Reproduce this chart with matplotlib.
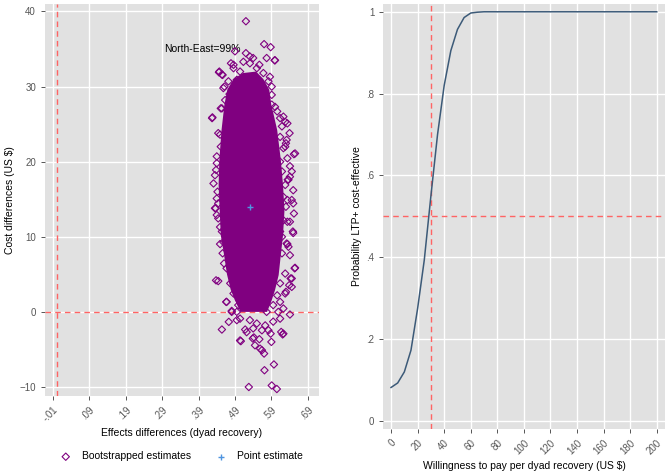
import matplotlib.pyplot as plt

plt.rcParams['font.family'] = ['Liberation Sans', 'DejaVu Sans']

# left panel: bootstrapped cost-effectiveness plane
# dense core of the cloud (outline)
core_x = [0.505, 0.490, 0.478, 0.468, 0.460, 0.451, 0.448, 0.445, 0.447, 0.453, 0.461, 0.469, 0.486, 0.512,
          0.548, 0.568, 0.584, 0.590, 0.606, 0.616, 0.622, 0.626, 0.622, 0.616, 0.610, 0.600, 0.590, 0.578]
core_y = [0.0, 1.5, 3.0, 5.0, 7.6, 10.2, 13.5, 16.9, 20.2, 24.2, 27.6, 29.6, 31.0, 31.8,
          32.0, 31.0, 29.6, 27.6, 24.2, 20.2, 16.9, 13.5, 10.2, 7.6, 4.9, 2.9, 1.4, 0.0]

# individual bootstrap draws around the core
boot_x = [0.520, 0.570, 0.588, 0.577, 0.599, 0.520, 0.531, 0.490, 0.479, 0.486, 0.513, 0.446, 0.456,
          0.586, 0.461, 0.591, 0.557, 0.540, 0.427, 0.447, 0.454, 0.623, 0.628, 0.652, 0.646, 0.650,
          0.652, 0.435, 0.431, 0.440, 0.449, 0.454, 0.458, 0.600, 0.640, 0.632, 0.628, 0.641, 0.646,
          0.641, 0.649, 0.449, 0.438, 0.460, 0.467, 0.454, 0.473, 0.481, 0.504, 0.518, 0.522, 0.528,
          0.542, 0.545, 0.559, 0.570, 0.571, 0.590, 0.597, 0.591, 0.605, 0.617, 0.623, 0.641, 0.623,
          0.630, 0.646, 0.646, 0.654, 0.641, 0.637, 0.632, 0.650, 0.506, 0.539, 0.557, 0.564, 0.588,
          0.582, 0.621, 0.495, 0.444, 0.466, 0.481, 0.655, 0.643, 0.634, 0.639, 0.614, 0.628, 0.606,
          0.634, 0.655, 0.630, 0.641, 0.591, 0.614, 0.428, 0.437, 0.635, 0.634, 0.458, 0.435, 0.440,
          0.444, 0.454, 0.637, 0.650, 0.634, 0.619,
          # edge draws
          0.451, 0.463, 0.475, 0.444, 0.451, 0.440, 0.591, 0.600, 0.619, 0.614, 0.623, 0.634, 0.614,
          0.438, 0.442, 0.444, 0.440, 0.449, 0.619, 0.628, 0.623, 0.630, 0.623, 0.614,
          0.456, 0.467, 0.477, 0.486, 0.499, 0.495, 0.619, 0.628, 0.614, 0.606, 0.595, 0.609, 0.577,
          0.504, 0.531, 0.550, 0.573, 0.595, 0.614, 0.564, 0.540,
          0.486, 0.504, 0.550, 0.568, 0.582, 0.472, 0.495, 0.531]
boot_y = [38.7, 35.65, 35.25, 33.8, 33.5, 34.45, 34.0, 34.7, 33.1, 32.45, 33.3, 31.9, 31.55,
          31.3, 30.0, 30.0, 32.9, 33.8, 25.8, 32.0, 31.6, 26.0, 25.3, 21.0, 18.7, 16.2,
          13.1, 13.8, 17.1, 19.8, 23.6, 27.1, 29.8, 33.5, 23.8, 22.9, 22.0, 18.0, 14.9,
          12.0, 10.7, 9.03, 4.2, 6.45, 1.33, -2.35, -1.33, 0.13, -3.8, -2.35, -2.7, -10.0,
          -3.4, -4.45, -4.9, -5.55, -7.77, -4.0, -7.0, -9.8, -10.27, -2.67, -2.9, -0.35, 0.45,
          2.67, 3.33, 4.45, 5.8, 7.55, 8.67, 9.1, 10.5, -3.9, -3.55, -3.64, -5.1, -2.9,
          -2.45, -3.0, -1.1, 4.1, 1.33, 0.0, 5.87, 4.45, 9.03, 3.55, 1.33, 2.45, 26.7,
          25.1, 21.1, 22.45, 19.4, 27.6, 25.8, 25.9, 13.8, 17.6, 14.9, 9.3, 18.2, 15.1,
          12.45, 10.7, 17.6, 14.45, 12.0, 10.0,
          # edge draws
          27.1, 28.2, 29.0, 23.8, 22.0, 20.7, 28.9, 27.3, 24.7, 23.3, 21.8, 20.45, 20.0,
          18.9, 16.0, 14.45, 12.9, 11.3, 18.7, 16.9, 15.3, 14.0, 12.2, 10.7,
          7.8, 5.8, 3.8, 2.45, 0.9, 0.0, 7.8, 5.1, 3.8, 2.2, 0.9, 0.0, 0.0,
          -0.9, -1.1, -1.55, -1.8, -1.3, -0.9, -2.45, -2.2,
          32.9, 32.0, 32.45, 31.8, 30.7, 30.7, 30.9, 33.1]

point_x = [0.53]
point_y = [13.9]

x_ticks = [-0.01, 0.09, 0.19, 0.29, 0.39, 0.49, 0.59, 0.69]
x_labels = ['-.01', '.09', '.19', '.29', '.39', '.49', '.59', '.69']
y_ticks = [-10, 0, 10, 20, 30, 40]

# right panel: acceptability curve
wtp = [0, 5, 10, 15, 20, 25, 30, 35, 40, 45, 50, 55, 60, 65, 70, 75, 80, 85, 90, 95, 100,
       105, 110, 115, 120, 125, 130, 135, 140, 145, 150, 155, 160, 165, 170, 175, 180, 185,
       190, 195, 200]
prob = [0.082, 0.093, 0.12, 0.173, 0.275, 0.393, 0.55, 0.70, 0.82, 0.905, 0.957, 0.986, 0.997,
        0.999, 1.0, 1.0, 1.0, 1.0, 1.0, 1.0, 1.0, 1.0, 1.0, 1.0, 1.0, 1.0, 1.0, 1.0, 1.0, 1.0,
        1.0, 1.0, 1.0, 1.0, 1.0, 1.0, 1.0, 1.0, 1.0, 1.0, 1.0]
wtp_ticks = [0, 20, 40, 60, 80, 100, 120, 140, 160, 180, 200]
prob_ticks = [0, 0.2, 0.4, 0.6, 0.8, 1.0]
prob_labels = ['0', '.2', '.4', '.6', '.8', '1']

bg = '#e1e1e1'
purple = '#800080'
ref_red = '#ff6464'
tick_col = '#555555'

fig = plt.figure(figsize=(6.69, 4.73), dpi=100)
ax1 = fig.add_axes([0.0673, 0.1628, 0.4096, 0.8288])
ax2 = fig.add_axes([0.573, 0.093, 0.421, 0.8985])

for ax in (ax1, ax2):
    ax.set_facecolor(bg)
    for s in ax.spines.values():
        s.set_visible(False)
    ax.grid(True, color='white', linewidth=1.0)
    ax.set_axisbelow(True)
    ax.tick_params(labelsize=7, colors=tick_col, length=3, width=0.7)

# left
ax1.fill(core_x, core_y, color=purple, lw=0, zorder=3)
ax1.scatter(boot_x, boot_y, marker='D', s=14, facecolors='none', edgecolors=purple,
            linewidths=0.8, zorder=4, label='Bootstrapped estimates')
ax1.scatter(point_x, point_y, marker='+', s=25, color='#4f94e0', linewidths=1.0,
            zorder=5, label='Point estimate')
ax1.axvline(0, color=ref_red, lw=1.0, ls=(0, (4, 3)), zorder=2)
ax1.axhline(0, color=ref_red, lw=1.0, ls=(0, (4, 3)), zorder=2)
ax1.text(0.40, 35, 'North-East=99%', ha='center', va='center', fontsize=7.5, zorder=3)
ax1.set_xlim(-0.032, 0.721)
ax1.set_ylim(-11.2, 41.0)
ax1.set_xticks(x_ticks)
ax1.set_xticklabels(x_labels, rotation=45, ha='right', rotation_mode='anchor')
ax1.set_yticks(y_ticks)
ax1.set_xlabel('Effects differences (dyad recovery)', fontsize=7.5, labelpad=3)
ax1.set_ylabel('Cost differences (US $)', fontsize=7.5, labelpad=3)
fig.legend(*ax1.get_legend_handles_labels(), loc='center', bbox_to_anchor=(0.268, 0.035),
           ncol=2, frameon=False, fontsize=7.5, columnspacing=1.8, handletextpad=0.6)

# right
ax2.plot(wtp, prob, color='#3c5a78', lw=1.1, zorder=3)
ax2.axvline(30, color=ref_red, lw=1.0, ls=(0, (4, 3)), zorder=2)
ax2.axhline(0.5, color=ref_red, lw=1.0, ls=(0, (4, 3)), zorder=2)
ax2.set_xlim(-5.8, 206.2)
ax2.set_ylim(-0.0195, 1.019)
ax2.set_xticks(wtp_ticks)
ax2.set_xticklabels([str(v) for v in wtp_ticks], rotation=45, ha='right', rotation_mode='anchor')
ax2.set_yticks(prob_ticks)
ax2.set_yticklabels(prob_labels)
ax2.set_xlabel('Willingness to pay per dyad recovery (US $)', fontsize=7.5, labelpad=3)
ax2.set_ylabel('Probability LTP+ cost-effective', fontsize=7.5, labelpad=3)

fig.savefig('out.png', dpi=100)
